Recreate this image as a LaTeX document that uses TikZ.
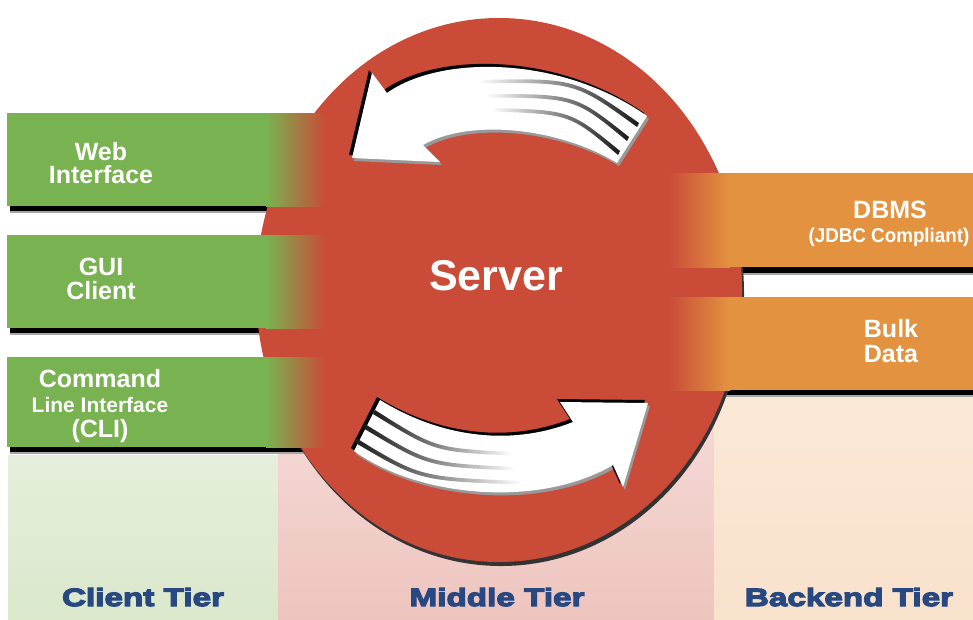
\documentclass[tikz,border=0pt]{standalone}
\usepackage{fontspec}
\setmainfont{Liberation Sans}
\newfontfamily\tierfont[FakeStretch=1.33,FakeBold=5]{Liberation Sans}
\definecolor{srvred}{RGB}{202,75,56}
\definecolor{cgreen}{RGB}{121,178,80}
\definecolor{borange}{RGB}{227,147,64}
\definecolor{tierblue}{RGB}{40,72,130}
\definecolor{cpanel}{RGB}{218,232,204}
\definecolor{mpanel}{RGB}{238,196,190}
\definecolor{bpanel}{RGB}{249,226,204}
\tikzset{
  barlabel/.style={text=white, font=\bfseries\fontsize{25}{25}\selectfont, inner sep=0pt, anchor=base},
  tierlabel/.style={text=tierblue, font=\tierfont\bfseries\fontsize{25}{25}\selectfont, inner sep=0pt, anchor=base},
  barshadow/.style={fill=black},
  arrowbody/.style={fill=white},
}
\newcommand{\topstreak}[6]{%
  \shade[left color=white, right color=black!90]
    (#1,#2) .. controls (#3,#4) .. (#5,#6) -- ({#5-2},{#6+4})
    .. controls (#3,{#4+4}) .. (#1,{#2+3.5}) -- cycle;}
\newcommand{\botstreak}[6]{%
  \shade[left color=black!90, right color=white]
    (#1,#2) .. controls (#3,#4) .. (#5,#6) -- (#5,{#6+3.5})
    .. controls (#3,{#4+4}) .. ({#1-2},{#2+4}) -- cycle;}
\begin{document}
\begin{tikzpicture}[x=1pt,y=-1pt]
\useasboundingbox (0,0) rectangle (973,619);
\fill[white] (0,0) rectangle (973,619);

% tier panels
\shade[top color=cpanel!70, bottom color=cpanel] (8,455) rectangle (278,619);
\shade[top color=mpanel!60, bottom color=mpanel] (278,397) rectangle (714,619);
\shade[top color=bpanel!80, bottom color=bpanel] (714,397) rectangle (973,619);

% bar shadows (under the server)
\fill[barshadow] (10,206) rectangle (330,211);
\fill[black!35] (10,211) rectangle (330,213);
\fill[barshadow] (10,328) rectangle (330,333);
\fill[black!35] (10,333) rectangle (330,335);
\fill[barshadow] (10,447) rectangle (330,452);
\fill[black!35] (10,452) rectangle (330,454);
\fill[barshadow] (690,267) rectangle (973,273);
\fill[black!35] (690,273) rectangle (973,275);
\fill[barshadow] (690,390) rectangle (973,395);
\fill[black!35] (690,395) rectangle (973,397);

% server disc
\fill[black!80] (501,294) ellipse [x radius=243, y radius=272];
\fill[srvred] (499,290) ellipse [x radius=243, y radius=272];

% client bars
\foreach \ya/\yb in {113/206, 235/328, 357/447} {
  \fill[cgreen] (7,\ya) rectangle (266,\yb);
  \shade[left color=cgreen, right color=srvred] (266,\ya) rectangle (326,\yb);
}
% backend bars
\foreach \ya/\yb in {173/267, 297/390} {
  \shade[left color=srvred, right color=borange] (668,\ya) rectangle (730,\yb);
  \fill[borange] (730,\ya) rectangle (973,\yb);
}

% upper arrow (to the client tier)
\fill[black!40, shift={(2,3)}] (352,158) -- (372,73) -- (387,93) .. controls (440,55) and (560,55) .. (647,116) -- (617,163) .. controls (560,128) and (470,118) .. (423,145) -- (440,162) -- cycle;
\fill[black, shift={(-3,-3)}] (352,158) -- (372,73) -- (387,93) .. controls (440,55) and (560,55) .. (647,116) -- (617,163) .. controls (560,128) and (470,118) .. (423,145) -- (440,162) -- cycle;
\fill[arrowbody] (352,158) -- (372,73) -- (387,93) .. controls (440,55) and (560,55) .. (647,116) -- (617,163) .. controls (560,128) and (470,118) .. (423,145) -- (440,162) -- cycle;
\topstreak{478}{80}{575}{78}{639}{123}
\topstreak{486}{94}{575}{94}{629}{137}
\topstreak{491}{108}{570}{110}{620}{151}

% lower arrow (to the backend tier)
\fill[black!40, shift={(2,3)}] (648,403) -- (623,487) -- (613,465) .. controls (540,508) and (420,498) .. (354,451) -- (380,400) .. controls (445,440) and (515,445) .. (573,422) -- (560,402) -- cycle;
\fill[black, shift={(-3,-3)}] (648,403) -- (623,487) -- (613,465) .. controls (540,508) and (420,498) .. (354,451) -- (380,400) .. controls (445,440) and (515,445) .. (573,422) -- (560,402) -- cycle;
\fill[arrowbody] (648,403) -- (623,487) -- (613,465) .. controls (540,508) and (420,498) .. (354,451) -- (380,400) .. controls (445,440) and (515,445) .. (573,422) -- (560,402) -- cycle;
\botstreak{375}{410}{435}{448}{512}{452}
\botstreak{365}{424}{428}{463}{516}{467}
\botstreak{356}{438}{420}{477}{522}{481}

% labels
\node[barlabel] (web1) at (101,160) {Web};
\node[barlabel] (web2) at (101,183.5) {Interface};
\node[barlabel] (gui1) at (101,275) {GUI};
\node[barlabel] (gui2) at (101,299) {Client};
\node[barlabel] (cli1) at (100,387) {Command};
\node[barlabel, font=\bfseries\fontsize{21}{21}\selectfont] (cli2) at (100,412) {Line Interface};
\node[barlabel] (cli3) at (100,437) {(CLI)};
\node[barlabel] (dbms1) at (890,218) {DBMS};
\node[barlabel, font=\bfseries\fontsize{20}{20}\selectfont] (dbms2) at (889,242) {\scalebox{0.94}[1]{(JDBC Compliant)}};
\node[barlabel] (bulk1) at (891,337) {Bulk};
\node[barlabel] (bulk2) at (891,362) {Data};
\node[barlabel, font=\bfseries\fontsize{43}{43}\selectfont] (server) at (496,290) {Server};

\node[tierlabel] (client) at (143,606) {Client Tier};
\node[tierlabel] (middle) at (497,606) {Middle Tier};
\node[tierlabel] (backend) at (849,606) {Backend Tier};
\end{tikzpicture}
\end{document}
